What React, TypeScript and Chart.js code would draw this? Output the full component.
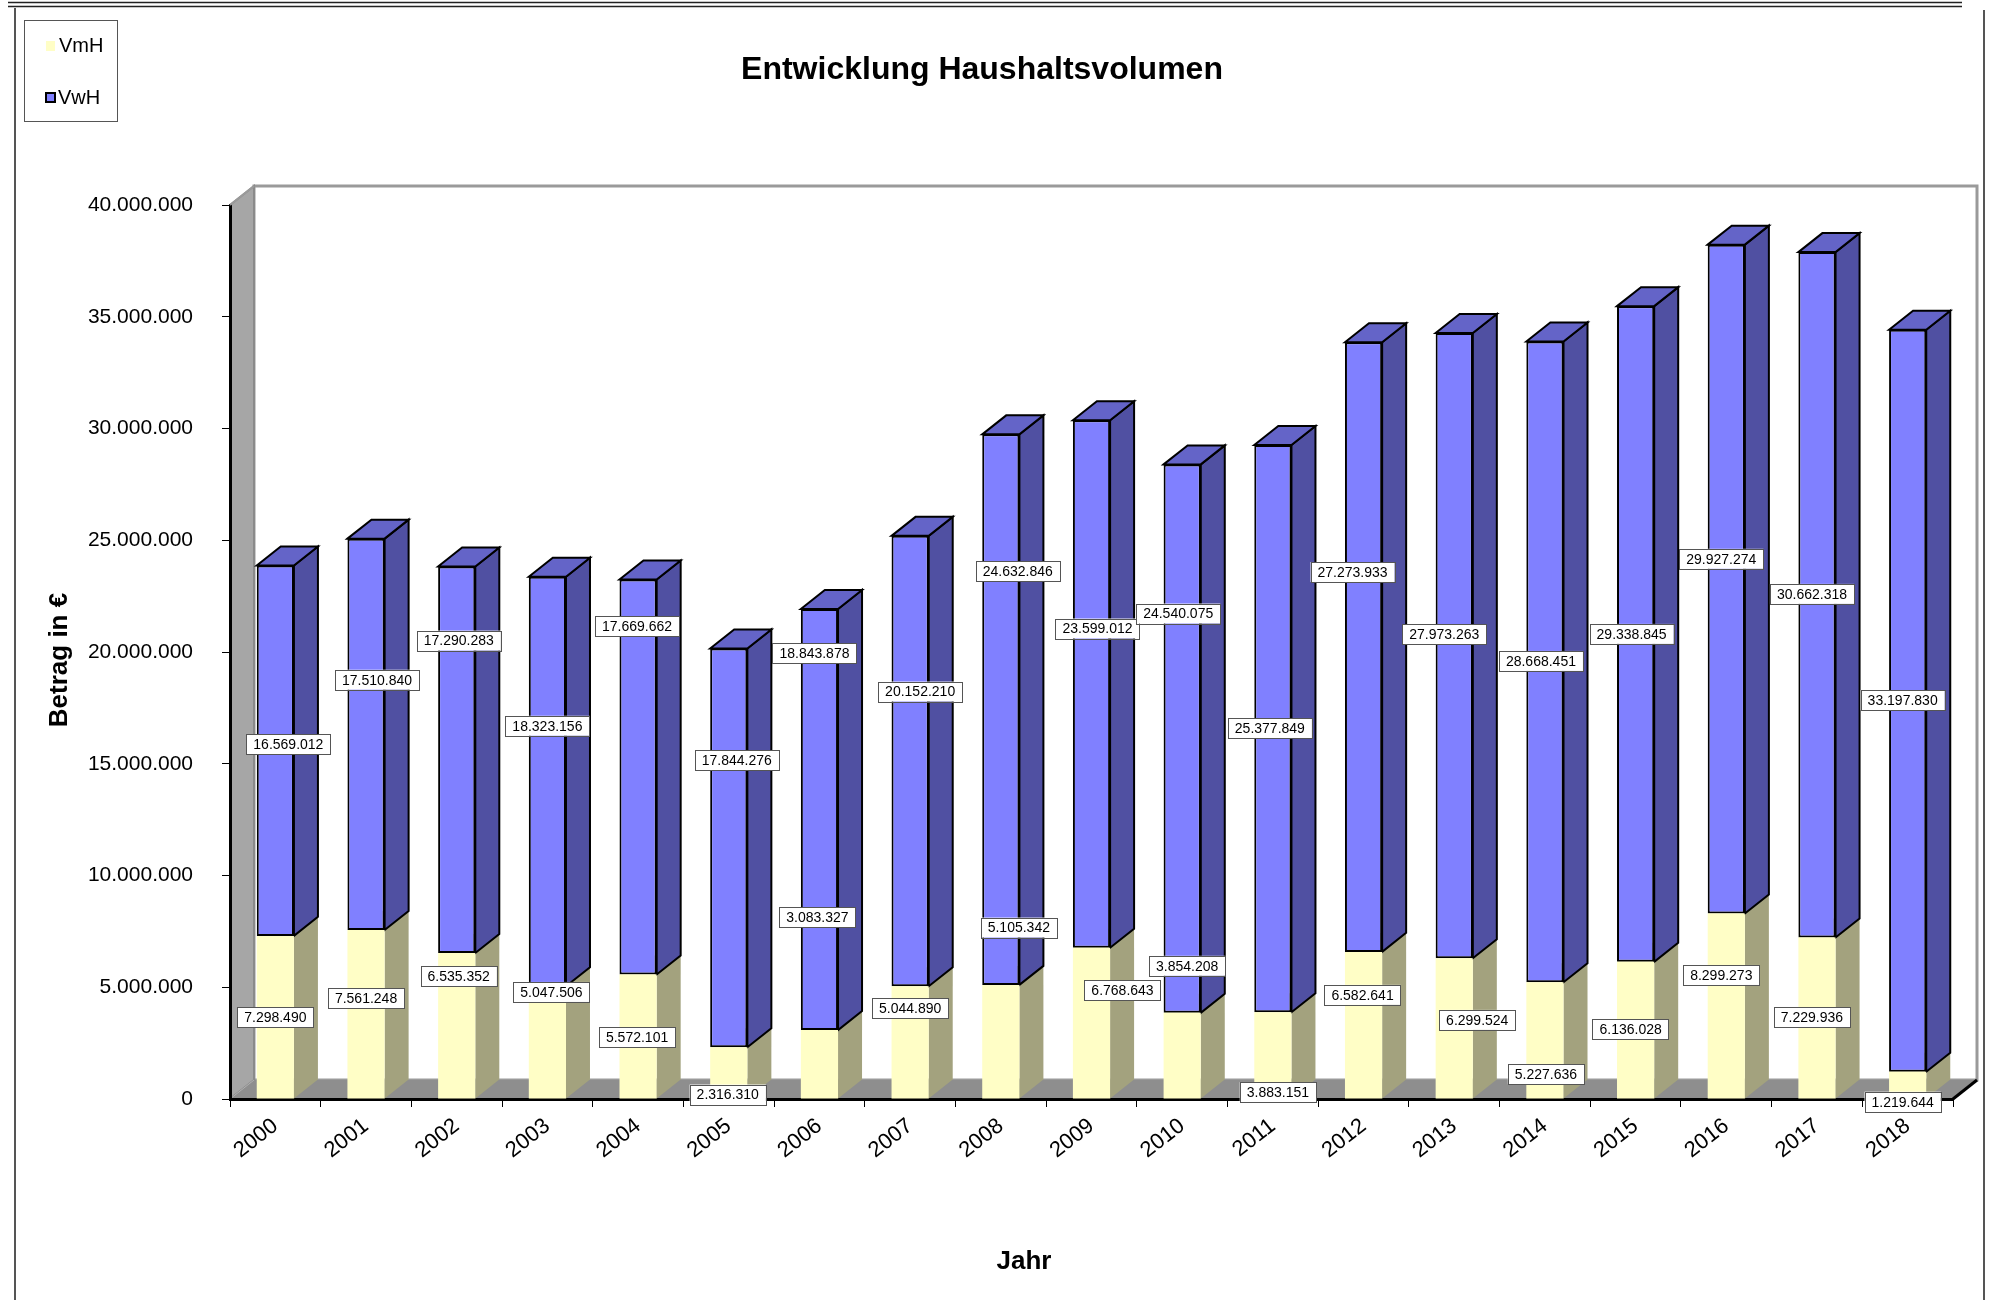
import React, { useEffect, useRef } from 'react';
import { Chart, registerables } from 'chart.js';

Chart.register(...registerables);

// ---------- data ----------
const years = ['2000', '2001', '2002', '2003', '2004', '2005', '2006', '2007', '2008', '2009',
  '2010', '2011', '2012', '2013', '2014', '2015', '2016', '2017', '2018'];

const vmh = [7298490, 7561248, 6535352, 5047506, 5572101, 2316310, 3083327, 5044890, 5105342, 6768643,
  3854208, 3883151, 6582641, 6299524, 5227636, 6136028, 8299273, 7229936, 1219644];

const vwh = [16569012, 17510840, 17290283, 18323156, 17669662, 17844276, 18843878, 20152210, 24632846, 23599012,
  24540075, 25377849, 27273933, 27973263, 28668451, 29338845, 29927274, 30662318, 33197830];

const yMin = 0;
const yMax = 40000000;
const yStep = 5000000;

// where each data label box sits (value on the y axis) and its sideways shift
const vmhLabelAt = [3650000, 4510000, 5500000, 4790000, 2760000, 200000, 8130000, 4060000, 7670000, 4860000,
  5960000, 310000, 4660000, 3540000, 1110000, 3110000, 5550000, 3650000, -120000];
const vmhLabelDx = [0, 0, 2, 4, -1, -1, -2, 0, 18, 31, 5, 5, -1, 23, 1, -5, -5, -5, -5];
const vwhLabelAt = [15870000, 18760000, 20510000, 16700000, 21160000, 15160000, 19940000, 18230000, 23610000, 21050000,
  21720000, 16600000, 23580000, 20790000, 19600000, 20810000, 24170000, 22600000, 17850000];
const vwhLabelDx = [13, 11, 2, 0, -1, 8, -5, 10, 17, 6, -4, -3, -11, -10, -4, -4, -5, -5, -5];

// ---------- styling ----------
const FONT = '"Liberation Sans", Arial, Helvetica, sans-serif';
const DX = 24;
const DY = -19;
const COLORS = {
  vmhFront: '#FFFEC6',
  vmhSide: '#A3A27E',
  vmhTop: '#D8D7A4',
  vwhFront: '#8080FF',
  vwhSide: '#5050A2',
  vwhTop: '#6464C8',
};

const fmt = (n: number) => String(Math.round(n)).replace(/\B(?=(\d{3})+(?!\d))/g, '.');

function poly(ctx: CanvasRenderingContext2D, pts: number[][]) {
  ctx.beginPath();
  ctx.moveTo(pts[0][0], pts[0][1]);
  for (let i = 1; i < pts.length; i++) ctx.lineTo(pts[i][0], pts[i][1]);
  ctx.closePath();
}

const threeD = {
  id: 'threeD',
  beforeDraw(chart: any) {
    const { ctx, chartArea: a, width, height } = chart;
    ctx.save();
    ctx.fillStyle = '#ffffff';
    ctx.fillRect(0, 0, width, height);

    // page frame
    ctx.strokeStyle = '#222';
    ctx.lineWidth = 1.5;
    ctx.beginPath();
    ctx.moveTo(8, 2.5); ctx.lineTo(1962, 2.5);
    ctx.moveTo(8, 6.5); ctx.lineTo(1962, 6.5);
    ctx.stroke();
    ctx.strokeStyle = '#555';
    ctx.lineWidth = 2;
    ctx.beginPath();
    ctx.moveTo(15, 8); ctx.lineTo(15, height);
    ctx.moveTo(1984, 10); ctx.lineTo(1984, height);
    ctx.stroke();

    // back wall
    ctx.fillStyle = '#ffffff';
    ctx.fillRect(a.left + DX, a.top + DY, a.right - a.left, a.bottom - a.top);
    ctx.strokeStyle = '#9a9a9a';
    ctx.lineWidth = 3;
    ctx.strokeRect(a.left + DX, a.top + DY, a.right - a.left, a.bottom - a.top);

    // left wall
    poly(ctx, [[a.left, a.top], [a.left + DX, a.top + DY], [a.left + DX, a.bottom + DY], [a.left, a.bottom]]);
    ctx.fillStyle = '#A6A6A6';
    ctx.fill();
    ctx.strokeStyle = '#8a8a8a';
    ctx.lineWidth = 2;
    ctx.stroke();

    // floor
    poly(ctx, [[a.left, a.bottom], [a.left + DX, a.bottom + DY], [a.right + DX, a.bottom + DY], [a.right, a.bottom]]);
    ctx.fillStyle = '#8E8E8E';
    ctx.fill();
    ctx.strokeStyle = '#b0b0b0';
    ctx.lineWidth = 1;
    ctx.beginPath();
    ctx.moveTo(a.left, a.bottom); ctx.lineTo(a.left + DX, a.bottom + DY);
    ctx.stroke();
    ctx.restore();
  },
  beforeDatasetsDraw(chart: any) {
    const { ctx } = chart;
    ctx.save();
    const styles = [
      { side: COLORS.vmhSide, top: COLORS.vmhTop, outline: false },
      { side: COLORS.vwhSide, top: COLORS.vwhTop, outline: true },
    ];
    chart.data.datasets.forEach((_: any, d: number) => {
      const meta = chart.getDatasetMeta(d);
      const st = styles[d];
      meta.data.forEach((bar: any) => {
        const { x, y, base, width } = bar.getProps(['x', 'y', 'base', 'width'], true);
        const l = x - width / 2;
        const r = x + width / 2;
        const t = Math.min(y, base);
        const b = Math.max(y, base);
        poly(ctx, [[r, t], [r + DX, t + DY], [r + DX, b + DY], [r, b]]);
        ctx.fillStyle = st.side;
        ctx.fill();
        if (st.outline) { ctx.strokeStyle = '#000'; ctx.lineWidth = 2; ctx.stroke(); }
        poly(ctx, [[l, t], [l + DX, t + DY], [r + DX, t + DY], [r, t]]);
        ctx.fillStyle = st.top;
        ctx.fill();
        if (st.outline) { ctx.strokeStyle = '#000'; ctx.lineWidth = 2; ctx.stroke(); }
      });
    });
    ctx.restore();
  },
  afterDraw(chart: any) {
    const { ctx, chartArea: a, scales } = chart;
    ctx.save();
    // floor edge on the right
    ctx.strokeStyle = '#000';
    ctx.lineWidth = 3;
    ctx.beginPath();
    ctx.moveTo(a.right, a.bottom); ctx.lineTo(a.right + DX, a.bottom + DY);
    ctx.stroke();
    ctx.strokeStyle = '#9a9a9a';
    ctx.lineWidth = 2;
    ctx.beginPath();
    ctx.moveTo(a.left, a.top); ctx.lineTo(a.left + DX, a.top + DY);
    ctx.stroke();

    // data labels
    ctx.font = `14px ${FONT}`;
    ctx.textAlign = 'center';
    ctx.textBaseline = 'middle';
    const sets = [
      { values: vmh, at: vmhLabelAt, dx: vmhLabelDx },
      { values: vwh, at: vwhLabelAt, dx: vwhLabelDx },
    ];
    sets.forEach((s, d) => {
      const meta = chart.getDatasetMeta(d);
      meta.data.forEach((bar: any, i: number) => {
        const cx = bar.x + s.dx[i];
        const cy = scales.y.getPixelForValue(s.at[i]);
        const txt = fmt(s.values[i]);
        const w = ctx.measureText(txt).width + 14;
        const h = 20;
        ctx.fillStyle = '#fff';
        ctx.fillRect(cx - w / 2, cy - h / 2, w, h);
        ctx.strokeStyle = '#555';
        ctx.lineWidth = 1;
        ctx.strokeRect(Math.round(cx - w / 2) + 0.5, Math.round(cy - h / 2) + 0.5, Math.round(w), h);
        ctx.fillStyle = '#000';
        ctx.fillText(txt, cx, cy + 1);
      });
    });

    // title
    ctx.fillStyle = '#000';
    ctx.font = `bold 32px ${FONT}`;
    ctx.textAlign = 'center';
    ctx.textBaseline = 'middle';
    ctx.fillText('Entwicklung Haushaltsvolumen', 982, 70);

    // axis titles
    ctx.font = `bold 26px ${FONT}`;
    ctx.fillText('Jahr', 1024, 1262);
    ctx.save();
    ctx.translate(60, 660);
    ctx.rotate(-Math.PI / 2);
    ctx.fillText('Betrag in €', 0, 0);
    ctx.restore();

    // legend
    ctx.strokeStyle = '#555';
    ctx.lineWidth = 1;
    ctx.strokeRect(24.5, 20.5, 93, 101);
    ctx.fillStyle = COLORS.vmhFront;
    ctx.fillRect(46, 41, 9, 10);
    ctx.fillStyle = COLORS.vwhFront;
    ctx.fillRect(46, 93, 9, 9);
    ctx.strokeStyle = '#000';
    ctx.lineWidth = 2;
    ctx.strokeRect(46, 93, 9, 9);
    ctx.fillStyle = '#000';
    ctx.font = `20px ${FONT}`;
    ctx.textAlign = 'left';
    ctx.fillText('VmH', 59, 46);
    ctx.fillText('VwH', 58, 98);
    ctx.restore();
  },
};

export default function App() {
  const ref = useRef<HTMLCanvasElement | null>(null);
  useEffect(() => {
    if (!ref.current) return;
    const chart = new Chart(ref.current, {
      type: 'bar',
      data: {
        labels: years,
        datasets: [
          {
            label: 'VmH',
            data: vmh,
            backgroundColor: COLORS.vmhFront,
            borderWidth: 0,
            barPercentage: 0.41,
            categoryPercentage: 1,
          },
          {
            label: 'VwH',
            data: vwh,
            backgroundColor: COLORS.vwhFront,
            borderColor: '#000',
            borderWidth: 2,
            borderSkipped: false,
            barPercentage: 0.41,
            categoryPercentage: 1,
          },
        ],
      },
      options: {
        responsive: false,
        animation: false,
        devicePixelRatio: 1,
        layout: { padding: { left: 20, right: 36, top: 205, bottom: 0 } },
        plugins: {
          legend: { display: false },
          title: { display: false },
          tooltip: { enabled: false },
        },
        scales: {
          x: {
            stacked: true,
            ticks: {
              font: { size: 22, family: FONT },
              color: '#000',
              minRotation: 38,
              maxRotation: 38,
              autoSkip: false,
              padding: 6,
            },
            grid: { drawOnChartArea: false, drawTicks: true, tickLength: 8, color: '#000', offset: true },
            border: { display: true, color: '#000', width: 3 },
            afterFit: (s: any) => { s.height = 201; },
          },
          y: {
            stacked: true,
            min: yMin,
            max: yMax,
            ticks: {
              stepSize: yStep,
              callback: (v: any) => fmt(Number(v)),
              font: { size: 21, family: FONT },
              color: '#000',
              padding: 29,
            },
            grid: { drawOnChartArea: false, drawTicks: true, tickLength: 8, color: '#000' },
            border: { display: true, color: '#000', width: 3 },
            afterFit: (s: any) => { s.width = 210; },
          },
        },
      },
      plugins: [threeD],
    } as any);
    return () => chart.destroy();
  }, []);
  return (
    <div style={{ position: 'fixed', left: 0, top: 0, width: 1989, height: 1300, background: '#fff' }}>
      <canvas ref={ref} width={1989} height={1300} style={{ display: 'block', width: 1989, height: 1300 }} />
    </div>
  );
}
